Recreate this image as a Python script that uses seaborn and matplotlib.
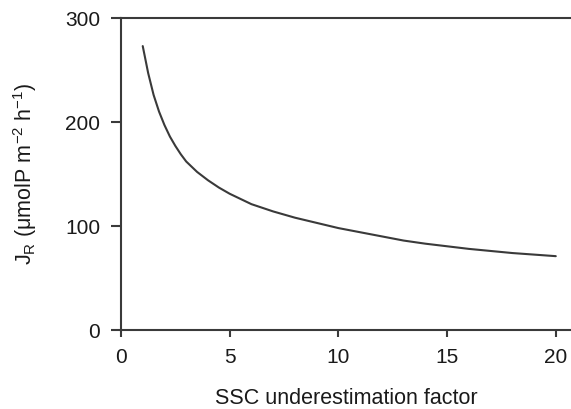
import matplotlib
matplotlib.use("Agg")
import matplotlib.pyplot as plt
import seaborn as sns
import pandas as pd

factor = [1, 1.25, 1.5, 1.75, 2, 2.25, 2.5, 2.75, 3, 3.5, 4, 4.5, 5, 6, 7, 8, 9, 10,
          11, 12, 13, 14, 16, 18, 20]
jr = [273, 247, 226, 210, 197, 186, 177, 169, 162, 152, 144, 137, 131, 121, 114, 108,
      103, 98, 94, 90, 86, 83, 78, 74, 71]
xticks = [0, 5, 10, 15, 20]
yticks = [0, 100, 200, 300]

sns.set_theme(style="white")
plt.rcParams['font.family'] = ['Liberation Sans', 'DejaVu Sans']
plt.rcParams['mathtext.default'] = 'regular'

df = pd.DataFrame({"factor": factor, "jr": jr})
fig = plt.figure(figsize=(5.71, 4.09), dpi=100)
ax = fig.add_axes([121/571, 1-330/409, 1-121/571, (330-18)/409])
col = "#3a3a3a"
sns.lineplot(data=df, x="factor", y="jr", ax=ax, color=col, linewidth=1.5)
ax.set_xlim(0, 20.7)
ax.set_ylim(0, 300)
ax.set_xticks(xticks)
ax.set_yticks(yticks)
ax.spines["right"].set_visible(False)
for s in ["left", "bottom", "top"]:
    ax.spines[s].set_color(col)
    ax.spines[s].set_linewidth(1.5)
ax.tick_params(axis="both", colors=col, labelcolor="#1a1a1a", labelsize=15, width=1.5)
ax.tick_params(axis="x", length=5, pad=8, direction="out", bottom=True)
ax.tick_params(axis="y", length=7, pad=8, direction="out", left=True)
ax.set_xlabel("SSC underestimation factor", fontsize=15.5, color="#1a1a1a", labelpad=15)
ax.set_ylabel("J$_R$ (μmolP m$^{-2}$ h$^{-1}$)", fontsize=15.5, color="#1a1a1a", labelpad=19)
fig.savefig("out.png", dpi=100)
